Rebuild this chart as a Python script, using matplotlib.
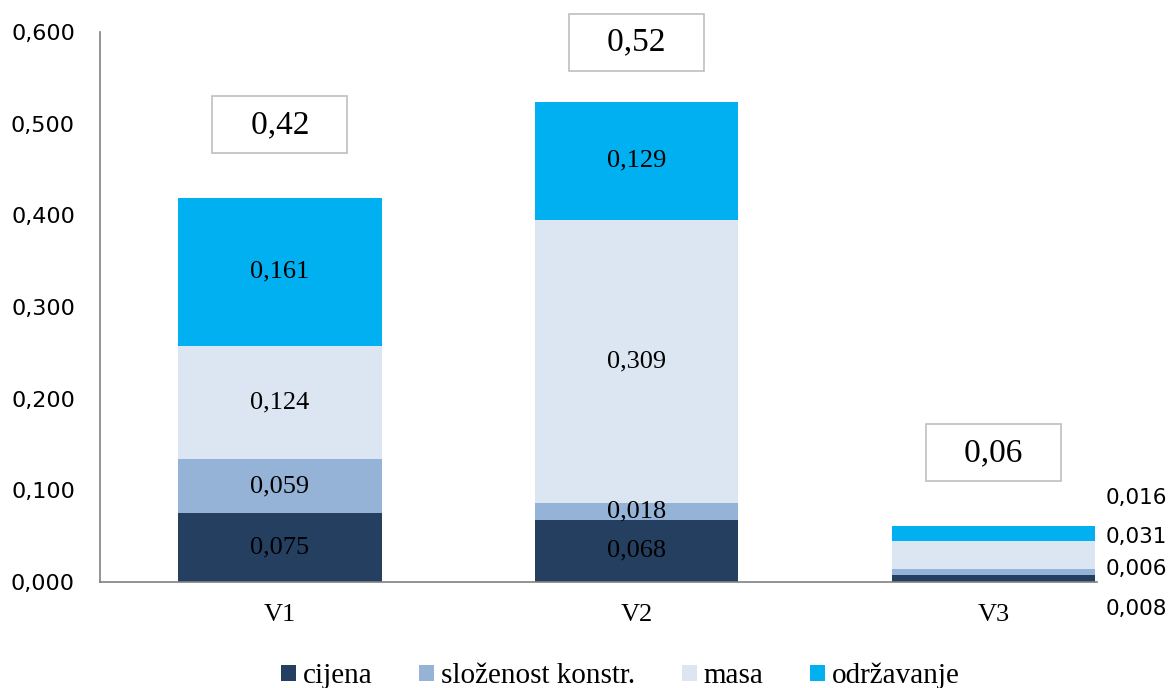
import numpy as np
import matplotlib.pyplot as plt

categories = ['V1', 'V2', 'V3']
series = ['cijena', 'složenost konstr.', 'masa', 'održavanje']
cijena = [0.075, 0.068, 0.008]
slozenost = [0.059, 0.018, 0.006]
masa = [0.124, 0.309, 0.031]
odrzavanje = [0.161, 0.129, 0.016]
totals = ['0,42', '0,52', '0,06']
colors = ['#243F60', '#95B3D7', '#DCE6F2', '#00B0F0']

# V3 labels sit to the right of the small bar (y positions in data units)
v3_label_y = [-0.029, 0.014, 0.049, 0.092]

serif = 'Liberation Serif'
sans = 'DejaVu Sans'

fig = plt.figure(figsize=(11.71, 6.88), dpi=100)
ax = fig.add_axes([100 / 1171, 1 - 582 / 688, 997 / 1171, 550 / 688])

x = np.arange(len(categories))
data = [cijena, slozenost, masa, odrzavanje]
bottom = np.zeros(len(categories))
for vals, name, col in zip(data, series, colors):
    vals = np.array(vals)
    ax.bar(x, vals, 0.57, bottom=bottom, color=col, label=name)
    for i in range(2):
        txt = f'{vals[i]:.3f}'.replace('.', ',')
        ax.text(x[i], bottom[i] + vals[i] / 2, txt, ha='center', va='center',
                fontsize=19, family=serif, color='black')
    bottom += vals

# V3 side labels
for vals, yy in zip(data, v3_label_y):
    ax.text(2.315, yy, f'{vals[2]:.3f}'.replace('.', ','), ha='left', va='center',
            fontsize=15.5, family=sans, color='black')

# total boxes
for i, t in enumerate(totals):
    ax.text(x[i], min(bottom[i] + 0.08, 0.589), '   ' + t + '   ', ha='center',
            va='center', fontsize=24, family=serif,
            bbox=dict(boxstyle='square,pad=0.4', fc='white', ec='#BFBFBF', lw=1.2))

ax.set_xlim(-0.504, 2.29)
ax.set_ylim(0, 0.6)
ax.set_yticks(np.arange(0, 0.61, 0.1))
ax.set_yticklabels([f'{v:.3f}'.replace('.', ',') for v in np.arange(0, 0.61, 0.1)],
                   family=sans, fontsize=16)
ax.set_xticks(x)
ax.set_xticklabels(categories, family=serif, fontsize=19)
ax.tick_params(axis='both', length=0)
ax.tick_params(axis='y', pad=18)
ax.tick_params(axis='x', pad=16)
for s in ['top', 'right']:
    ax.spines[s].set_visible(False)
for s in ['left', 'bottom']:
    ax.spines[s].set_color('#808080')
    ax.spines[s].set_linewidth(1.2)

fig.legend(loc='lower center', bbox_to_anchor=(0.53, -0.04), ncol=4, frameon=False,
           prop={'family': serif, 'size': 21}, handlelength=0.5, handleheight=0.5,
           handletextpad=0.25, columnspacing=1.6)

fig.savefig('out.png', dpi=100)
